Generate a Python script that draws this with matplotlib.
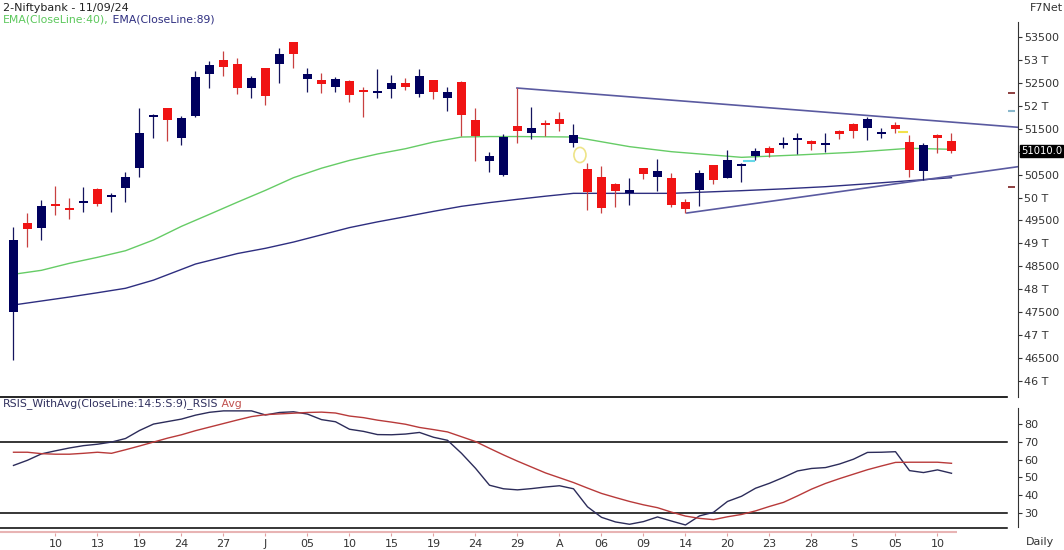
import matplotlib
matplotlib.use('Agg')
import numpy as np
import matplotlib.pyplot as plt
from matplotlib.patches import Ellipse

plt.rcParams['font.family'] = ['DejaVu Sans']

# ── data (Bank Nifty daily, 05 Jun – 11 Sep 2024) ──
opens = [47512, 49452, 49336, 49850, 49765, 49895, 50186, 50032, 50215, 50637,
         51760, 51946, 51305, 51784, 52693, 53005, 52911, 52382, 52818, 52905,
         53384, 52584, 52563, 52417, 52545, 52332, 52300, 52360, 52505, 52251,
         52563, 52164, 52527, 51691, 50797, 50492, 51560, 51401, 51606, 51706,
         51196, 50616, 50455, 50295, 50092, 50637, 50455, 50419, 49897, 50164,
         50710, 50433, 50702, 50913, 51073, 51152, 51268, 51233, 51152, 51457,
         51603, 51523, 51392, 51581, 51218, 50579, 51364, 51240]
closes = [49075, 49314, 49822, 49830, 49745, 49912, 49859, 50048, 50455, 51414,
          51790, 51691, 51728, 52621, 52890, 52839, 52382, 52600, 52214, 53123,
          53129, 52687, 52469, 52578, 52230, 52314, 52316, 52491, 52417, 52650,
          52301, 52294, 51800, 51342, 50913, 51314, 51444, 51523, 51588, 51597,
          51364, 50114, 49779, 50142, 50164, 50507, 50586, 49838, 49750, 50528,
          50383, 50819, 50718, 51015, 50964, 51170, 51285, 51161, 51170, 51379,
          51451, 51706, 51408, 51494, 50601, 51146, 51305, 51010]
highs = [49365, 49670, 49947, 50252, 49984, 50222, 50200, 50106, 50550, 51946,
         51821, 51960, 51778, 52752, 52983, 53195, 53036, 52656, 52830, 53254,
         53395, 52831, 52709, 52635, 52560, 52403, 52796, 52672, 52613, 52796,
         52570, 52417, 52540, 51946, 51000, 51385, 52382, 51967, 51691, 51872,
         51597, 50746, 50688, 50310, 50433, 50650, 50834, 50542, 49968, 50601,
         50720, 51037, 50760, 51087, 51124, 51314, 51414, 51245, 51400, 51470,
         51615, 51763, 51510, 51640, 51364, 51183, 51375, 51414]
lows = [46459, 48915, 49075, 49620, 49539, 49692, 49816, 49692, 49910, 50455,
        51292, 51233, 51146, 51763, 52382, 52656, 52251, 52177, 52018, 52491,
        52831, 52308, 52273, 52308, 52090, 51763, 52177, 52164, 52345, 52199,
        52148, 51887, 51342, 50797, 50564, 50477, 51196, 51270, 51342, 51457,
        51095, 49729, 49670, 49801, 49838, 50404, 50150, 49801, 49657, 49816,
        50289, 50419, 50346, 50819, 50891, 51073, 50943, 51037, 51000, 51270,
        51305, 51255, 51292, 51400, 50441, 50383, 50964, 50964]

ema40_idx = [0, 2, 4, 6, 8, 10, 12, 14, 16, 18, 20, 22, 24, 26, 28, 30, 32, 34,
             36, 40, 41, 44, 47, 52, 56, 60, 64, 67]
ema40 = [48327, 48414, 48567, 48697, 48841, 49075, 49373, 49635, 49900, 50158,
         50433, 50640, 50810, 50950, 51065, 51210, 51320, 51330, 51330, 51320,
         51270, 51110, 51000, 50877, 50928, 50987, 51074, 51052]
ema89_idx = [0, 2, 4, 6, 8, 10, 13, 16, 18, 20, 24, 26, 28, 30, 32, 34, 36, 38,
             40, 44, 47, 52, 55, 58, 61, 64, 67]
ema89 = [47658, 47745, 47832, 47925, 48022, 48200, 48551, 48780, 48894, 49030,
         49345, 49470, 49583, 49700, 49809, 49890, 49962, 50030, 50092, 50092,
         50092, 50150, 50190, 50237, 50300, 50368, 50433]

# trend lines (candle index, price)
upper_tl_x = [35.96, 71.75]
upper_tl_y = [52388, 51532]
lower_tl_x = [48.1, 71.75]
lower_tl_y = [49663, 50673]

rsi = [56.7, 59.6, 63.2, 64.9, 66.5, 67.8, 68.6, 69.8, 71.8, 76.3,
       79.9, 81.3, 82.7, 84.9, 86.5, 87.3, 87.3, 87.3, 85.0, 86.4,
       86.8, 85.5, 82.4, 81.2, 77.0, 75.8, 74.0, 73.9, 74.3, 75.2,
       72.5, 70.8, 63.5, 55.1, 45.6, 43.6, 43.0, 43.7, 44.6, 45.3,
       43.6, 33.5, 27.6, 25.0, 23.7, 25.2, 27.8, 25.5, 23.3, 28.4,
       30.4, 36.5, 39.4, 43.9, 46.7, 50.0, 53.6, 55.0, 55.5, 57.5,
       60.2, 64.0, 64.1, 64.4, 53.8, 52.7, 54.2, 52.3]
rsi_avg = [64.1, 64.1, 63.3, 63.0, 63.0, 63.5, 64.1, 63.5, 65.5, 67.6,
           69.8, 72.0, 73.9, 76.2, 78.2, 80.2, 82.2, 84.1, 85.2, 85.6,
           86.0, 86.4, 86.6, 86.1, 84.4, 83.5, 82.1, 81.0, 79.8, 78.0,
           76.8, 75.5, 72.8, 70.1, 66.3, 62.6, 59.1, 55.8, 52.5, 49.8,
           47.1, 44.0, 41.0, 38.7, 36.5, 34.6, 33.0, 30.5, 28.3, 27.0,
           26.3, 27.9, 29.2, 31.2, 33.7, 36.0, 39.6, 43.4, 46.6, 49.3,
           51.8, 54.3, 56.4, 58.4, 58.5, 58.5, 58.5, 57.9]

xtick_idx = list(range(3, 67, 3))
xtick_labels = ['10', '13', '19', '24', '27', 'J', '05', '10', '15', '19', '24',
                '29', 'A', '06', '09', '14', '20', '23', '28', 'S', '05', '10']

price_ticks = list(range(46000, 54000, 500))
rsi_ticks = [30, 40, 50, 60, 70, 80]

BLUE = '#00005e'
RED = '#f01414'
GREEN = '#66cc66'
NAVY = '#2e2e80'
TL = '#5a5aa0'

W, H = 1064, 550
fig = plt.figure(figsize=(W / 100, H / 100), dpi=100)


def fx(px):
    return px / W


def fy(py):
    return 1 - py / H


XL, XR = -0.964, 71.75
EDGE = 1007 / 1018

# ── main price panel ─────────────────────────────
ax = fig.add_axes([0, fy(397), fx(1018), fy(0) - fy(397)])
ax.set_xlim(XL, XR)
ax.set_ylim(45652, 54307)

o = np.array(opens, float); c = np.array(closes, float)
hi = np.array(highs, float); lo = np.array(lows, float)
x = np.arange(len(o))
up = c >= o
mid = (o + c) / 2
bh = np.maximum(np.abs(c - o), 40)
ax.vlines(x, lo, hi, colors=np.where(up, '#14145e', '#c84040'), lw=0.9, zorder=3)
ax.bar(x, bh, 0.66, bottom=mid - bh / 2, color=np.where(up, BLUE, RED), lw=0, zorder=4)

ax.plot(ema40_idx, ema40, color=GREEN, lw=1, zorder=2)
ax.plot(ema89_idx, ema89, color=NAVY, lw=1, zorder=2)
ax.plot(upper_tl_x, upper_tl_y, color=TL, lw=1.2, zorder=2)
ax.plot(lower_tl_x, lower_tl_y, color=TL, lw=1.2, zorder=2)

# small alert marks
ax.add_patch(Ellipse((40.46, 50928), 0.86, 330, fill=False, ec='#eee488', lw=1.2, zorder=5))
ax.hlines(50803, 52.1, 53.0, color='#66d8e8', lw=1.5, zorder=5)
ax.hlines(51422, 63.2, 63.9, color='#f2e24a', lw=1.5, zorder=5)
ax.hlines([52286, 50224], 71.04, 71.54, color='#7a1f1f', lw=1.2)
ax.hlines(51887, 71.04, 71.54, color='#8ab8cc', lw=1.5)

ax.yaxis.tick_right()
ax.set_yticks(price_ticks)
# the 51 T label sits under the last-price box, so it is left blank
ax.set_yticklabels(['' if v == 51000 else (f'{v // 1000} T' if v % 1000 == 0 else str(v))
                    for v in price_ticks])
ax.tick_params(axis='y', length=3, width=0.8, pad=1.5, labelsize=8, labelcolor='#333333', color='#333333')
ax.set_xticks([])
for s in ['top', 'left', 'bottom']:
    ax.spines[s].set_visible(False)
ax.spines['right'].set_bounds(45652, 53827)
ax.spines['right'].set_color('#333333')
ax.axhline(45652, xmax=EDGE, color='black', lw=1.2, clip_on=False)

ax.text(1.003, closes[-1], f'{closes[-1]:.1f}', transform=ax.get_yaxis_transform(),
        ha='left', va='center', color='white', fontsize=7.2, clip_on=False,
        bbox=dict(boxstyle='square,pad=0.12', fc='black', ec='black'))

# ── RSI panel ────────────────────────────────────
ax2 = fig.add_axes([0, fy(533), fx(1018), fy(400) - fy(533)])
ax2.set_xlim(XL, XR)
ax2.set_ylim(18.8, 93.4)
ax2.plot(x, rsi, color='#2c2c5a', lw=1, zorder=3)
ax2.plot(x, rsi_avg, color='#b83a3a', lw=1, zorder=3)
for lvl in (70, 30, 21.6):
    ax2.axhline(lvl, xmax=EDGE, color='black', lw=1.1)
ax2.hlines(19.6, XL, len(x) - 0.6, color='#e8b4b4', lw=1.5, clip_on=False)

ax2.yaxis.tick_right()
ax2.set_yticks(rsi_ticks)
ax2.tick_params(axis='y', length=3, width=0.8, pad=1.5, labelsize=8, labelcolor='#333333', color='#333333')
ax2.set_xticks(xtick_idx)
ax2.set_xticklabels(xtick_labels)
ax2.tick_params(axis='x', length=2, width=0.8, color='#e0a0a0', pad=2.5, labelsize=8, labelcolor='#333333')
for s in ['top', 'left', 'bottom']:
    ax2.spines[s].set_visible(False)
ax2.spines['right'].set_bounds(22.2, 88.9)
ax2.spines['right'].set_color('#333333')

# ── texts ────────────────────────────────────────
fig.text(fx(3), fy(8), '2-Niftybank - 11/09/24', va='center', ha='left', fontsize=8, color='#222222')
t1 = fig.text(fx(3), fy(20), 'EMA(CloseLine:40),', va='center', ha='left', fontsize=7.8, color='#5cc85c')
ax.annotate(' EMA(CloseLine:89)', xy=(1, 0.5), xycoords=t1, va='center', ha='left',
            fontsize=7.8, color=NAVY, annotation_clip=False)
t2 = fig.text(fx(3), fy(404), 'RSIS_WithAvg(CloseLine:14:5:S:9)_RSIS', va='center', ha='left',
              fontsize=7.8, color='#30305e')
ax2.annotate(' Avg', xy=(1, 0.5), xycoords=t2, va='center', ha='left',
             fontsize=7.8, color='#c0504d', annotation_clip=False)
fig.text(fx(1046), fy(8), 'F7Net', va='center', ha='center', fontsize=8, color='#333333')
fig.text(fx(1040), fy(542), 'Daily', va='center', ha='center', fontsize=8, color='#333333')

fig.savefig('out.png', dpi=100)
